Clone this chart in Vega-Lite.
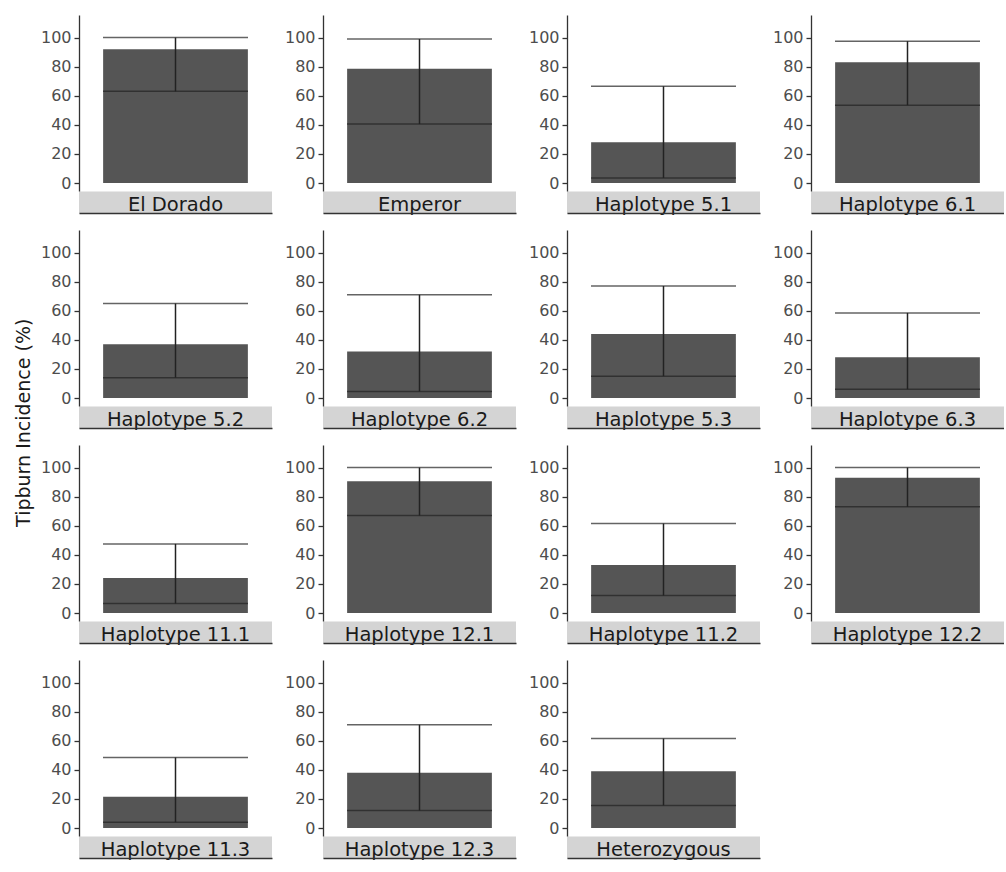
{
  "$schema": "https://vega.github.io/schema/vega-lite/v6.json",
  "background": "white",
  "padding": {"left": 15, "top": 5, "right": 0, "bottom": 5},
  "title": {"text": "Tipburn Incidence (%)", "orient": "left", "anchor": "middle", "font": "DejaVu Sans", "fontSize": 19, "fontWeight": "normal", "color": "#1a1a1a", "offset": 6, "dx": 57},
  "data": {"values": [
    {"name": "El Dorado", "mean": 92, "lower": 63, "upper": 100},
    {"name": "Emperor", "mean": 78.5, "lower": 40.5, "upper": 99},
    {"name": "Haplotype 5.1", "mean": 28, "lower": 3.5, "upper": 66.5},
    {"name": "Haplotype 6.1", "mean": 83, "lower": 53.5, "upper": 97.5},
    {"name": "Haplotype 5.2", "mean": 37, "lower": 14, "upper": 65},
    {"name": "Haplotype 6.2", "mean": 32, "lower": 4.5, "upper": 71},
    {"name": "Haplotype 5.3", "mean": 44, "lower": 15, "upper": 77},
    {"name": "Haplotype 6.3", "mean": 28, "lower": 6, "upper": 58.5},
    {"name": "Haplotype 11.1", "mean": 24, "lower": 6.5, "upper": 47.5},
    {"name": "Haplotype 12.1", "mean": 90.5, "lower": 67, "upper": 100},
    {"name": "Haplotype 11.2", "mean": 33, "lower": 12, "upper": 61.5},
    {"name": "Haplotype 12.2", "mean": 93, "lower": 73, "upper": 100},
    {"name": "Haplotype 11.3", "mean": 21.5, "lower": 4, "upper": 48.5},
    {"name": "Haplotype 12.3", "mean": 38, "lower": 12, "upper": 71},
    {"name": "Heterozygous", "mean": 39, "lower": 15.5, "upper": 61.5}
  ]},
  "facet": {
    "field": "name", "type": "nominal", "title": null,
    "sort": ["El Dorado", "Emperor", "Haplotype 5.1", "Haplotype 6.1", "Haplotype 5.2", "Haplotype 6.2", "Haplotype 5.3", "Haplotype 6.3", "Haplotype 11.1", "Haplotype 12.1", "Haplotype 11.2", "Haplotype 12.2", "Haplotype 11.3", "Haplotype 12.3", "Heterozygous"],
    "header": {"labels": false, "labelExpr": "''", "labelPadding": 0}
  },
  "columns": 4,
  "bounds": "flush",
  "spacing": {"row": 39, "column": 51},
  "resolve": {"scale": {"x": "independent"}, "axis": {"x": "independent", "y": "independent"}},
  "spec": {
    "width": 193,
    "height": 176,
    "layer": [
      {"mark": {"type": "bar", "color": "#555555", "width": {"band": 0.75}},
        "encoding": {
          "x": {"field": "name", "type": "nominal", "scale": {"paddingInner": 0, "paddingOuter": 0},
            "axis": {"title": null, "orient": "bottom", "offset": 22, "grid": false, "labelAngle": 0,
              "domainColor": "#333333", "domainWidth": 1.3,
              "tickColor": "#D4D4D4", "tickSize": -22, "tickWidth": 193, "tickCap": "butt",
              "labelFont": "DejaVu Sans", "labelFontSize": 19.5, "labelColor": "#1a1a1a", "labelBaseline": "alphabetic", "labelPadding": 19.5, "labelLimit": 300}},
          "y": {"field": "mean", "type": "quantitative", "scale": {"domain": [-5.5, 115.5], "nice": false, "zero": false},
            "axis": {"title": null, "values": [0, 20, 40, 60, 80, 100], "tickCount": 6, "labelOverlap": false, "grid": false, "tickSize": 5, "labelPadding": 3, "labelFont": "DejaVu Sans", "labelFontSize": 16, "labelColor": "#4D4D4D", "domainColor": "#333333", "tickColor": "#333333", "domainWidth": 1.3, "tickWidth": 1.3}}}},
      {"mark": {"type": "rule", "color": "#222222", "strokeWidth": 1.5},
        "encoding": {"x": {"field": "name", "type": "nominal"},
          "y": {"field": "lower", "type": "quantitative",
            "axis": {"title": null, "values": [0, 20, 40, 60, 80, 100], "tickCount": 6, "labelOverlap": false, "grid": false, "tickSize": 5, "labelPadding": 3, "labelFont": "DejaVu Sans", "labelFontSize": 16, "labelColor": "#4D4D4D", "domainColor": "#333333", "tickColor": "#333333", "domainWidth": 1.3, "tickWidth": 1.3}},
          "y2": {"field": "upper"}}},
      {"mark": {"type": "tick", "color": "#222222", "thickness": 1.5, "size": 145, "orient": "horizontal"},
        "encoding": {"x": {"field": "name", "type": "nominal"},
          "y": {"field": "upper", "type": "quantitative",
            "axis": {"title": null, "values": [0, 20, 40, 60, 80, 100], "tickCount": 6, "labelOverlap": false, "grid": false, "tickSize": 5, "labelPadding": 3, "labelFont": "DejaVu Sans", "labelFontSize": 16, "labelColor": "#4D4D4D", "domainColor": "#333333", "tickColor": "#333333", "domainWidth": 1.3, "tickWidth": 1.3}}}},
      {"mark": {"type": "tick", "color": "#222222", "thickness": 1.5, "size": 145, "orient": "horizontal"},
        "encoding": {"x": {"field": "name", "type": "nominal"},
          "y": {"field": "lower", "type": "quantitative",
            "axis": {"title": null, "values": [0, 20, 40, 60, 80, 100], "tickCount": 6, "labelOverlap": false, "grid": false, "tickSize": 5, "labelPadding": 3, "labelFont": "DejaVu Sans", "labelFontSize": 16, "labelColor": "#4D4D4D", "domainColor": "#333333", "tickColor": "#333333", "domainWidth": 1.3, "tickWidth": 1.3}}}}
    ]
  },
  "config": {"view": {"stroke": null}}
}
